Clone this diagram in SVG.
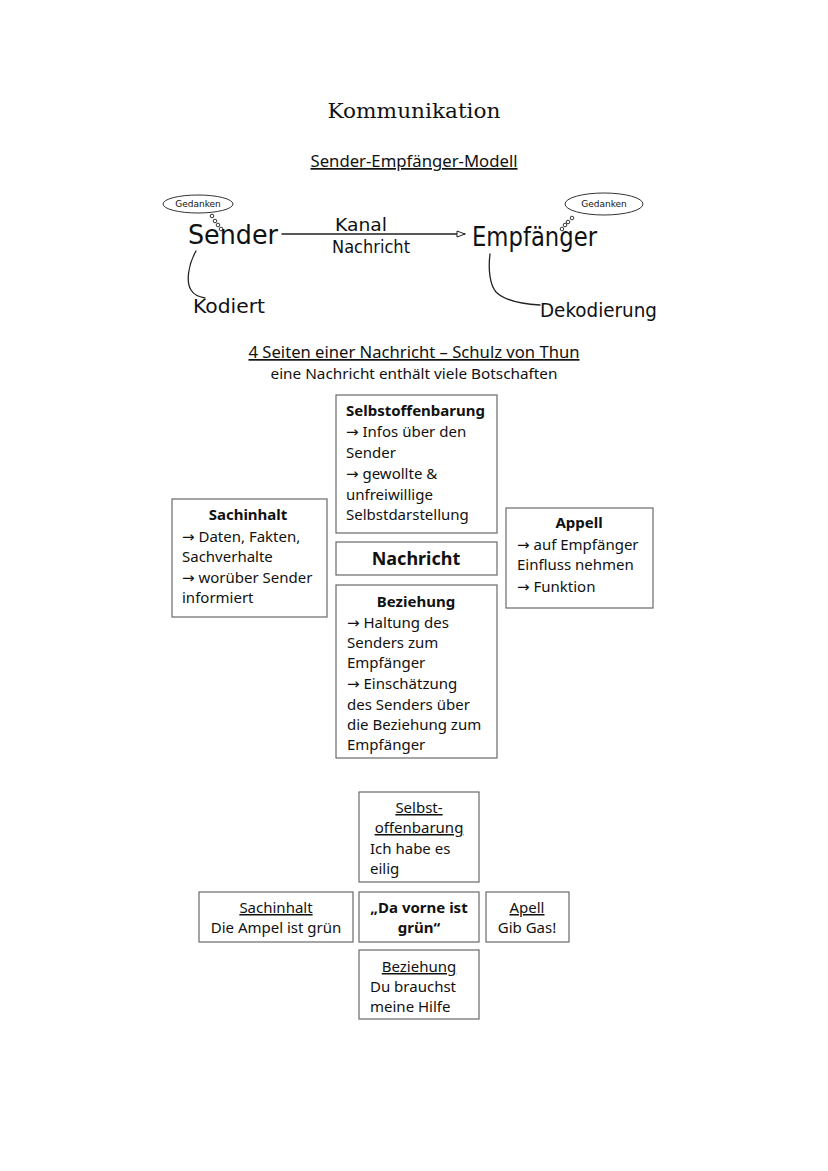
<svg xmlns="http://www.w3.org/2000/svg" width="828" height="1171" viewBox="0 0 828 1171">
<style>
.bg{fill:#ffffff}
.box{fill:#ffffff;stroke:#6a6a6a;stroke-width:1.2}
.t{font-family:"Noto Sans","Open Sans","Liberation Sans",sans-serif;font-size:15px;fill:#111}
.big{font-size:17px}
.nach{font-size:18px}
.b{font-weight:bold}
.c{text-anchor:middle}
.u{text-decoration:underline}
.ar{font-family:"DejaVu Sans",sans-serif;font-size:15px}
.hw{font-family:"DejaVu Sans","Liberation Sans",sans-serif;font-weight:normal;fill:#111}
.pen{fill:none;stroke:#222;stroke-width:1.3;stroke-linecap:round}
.bub{fill:none;stroke:#333;stroke-width:1}
</style>
<defs>
<marker id="ah" markerWidth="10" markerHeight="8" refX="9" refY="4" orient="auto" markerUnits="userSpaceOnUse">
<path d="M1,1 L9,4 L1,7 Z" fill="#fff" stroke="#222" stroke-width="1"/>
</marker>
</defs>
<rect class="bg" x="0" y="0" width="828" height="1171"/>

<g id="titles">
<text x="414" y="118" text-anchor="middle" font-family="DejaVu Serif,Liberation Serif,serif" font-size="20" textLength="173" lengthAdjust="spacingAndGlyphs" fill="#111">Kommunikation</text>
<text x="414" y="167" class="t big c u" textLength="207" lengthAdjust="spacingAndGlyphs">Sender-Empfänger-Modell</text>
<text x="414" y="358" class="t big c u" textLength="331" lengthAdjust="spacingAndGlyphs">4 Seiten einer Nachricht – Schulz von Thun</text>
<text x="414" y="379" class="t c" textLength="287" lengthAdjust="spacingAndGlyphs">eine Nachricht enthält viele Botschaften</text>
</g>

<g id="sender">
<ellipse class="bub" cx="198" cy="204" rx="35" ry="9"/>
<text x="198" y="207" class="hw c" font-size="9">Gedanken</text>
<circle class="bub" cx="212" cy="216" r="1.8"/>
<circle class="bub" cx="215" cy="221" r="1.8"/>
<circle class="bub" cx="218" cy="225" r="1.8"/>
<circle class="bub" cx="221" cy="229" r="1.8"/>
<text x="188" y="244" class="hw" font-size="26" textLength="90" lengthAdjust="spacingAndGlyphs">Sender</text>
</g>

<g id="empfaenger">
<ellipse class="bub" cx="604" cy="204" rx="39" ry="11"/>
<text x="604" y="207" class="hw c" font-size="9">Gedanken</text>
<circle class="bub" cx="572" cy="218" r="1.8"/>
<circle class="bub" cx="568" cy="222" r="1.8"/>
<circle class="bub" cx="565" cy="225" r="1.8"/>
<circle class="bub" cx="562" cy="229" r="1.8"/>
<text x="472" y="246" class="hw" font-size="26" textLength="125" lengthAdjust="spacingAndGlyphs">Empfänger</text>
</g>

<g id="kodiert">
<text x="193" y="313" class="hw" font-size="20" textLength="72" lengthAdjust="spacingAndGlyphs">Kodiert</text>
</g>
<g id="dekodierung">
<text x="540" y="317" class="hw" font-size="20" textLength="117" lengthAdjust="spacingAndGlyphs">Dekodierung</text>
</g>

<g id="connectors">
<line class="pen" x1="282" y1="234" x2="465" y2="234" marker-end="url(#ah)"/>
<text x="361" y="231" class="hw c" font-size="18" textLength="52" lengthAdjust="spacingAndGlyphs">Kanal</text>
<text x="371" y="253" class="hw c" font-size="18" textLength="78" lengthAdjust="spacingAndGlyphs">Nachricht</text>
<path class="pen" d="M196,251 C188,265 186,282 191,290 C194,295 199,297 205,298"/>
<path class="pen" d="M490,254 C488,270 490,285 496,292 C505,301 522,304 540,305"/>
</g>

<g id="selbstoffenbarung">
<rect class="box" x="336" y="395" width="161" height="138"/>
<text x="346" y="416" class="t b">Selbstoffenbarung</text>
<text x="346" y="437" class="t"><tspan class="ar">→</tspan> Infos über den</text>
<text x="346" y="458" class="t">Sender</text>
<text x="346" y="479" class="t"><tspan class="ar">→</tspan> gewollte &amp;</text>
<text x="346" y="500" class="t">unfreiwillige</text>
<text x="346" y="520" class="t">Selbstdarstellung</text>
</g>

<g id="sachinhalt">
<rect class="box" x="172" y="499" width="155" height="118"/>
<text x="248" y="520" class="t b c">Sachinhalt</text>
<text x="182" y="542" class="t"><tspan class="ar">→</tspan> Daten, Fakten,</text>
<text x="182" y="562" class="t">Sachverhalte</text>
<text x="182" y="583" class="t"><tspan class="ar">→</tspan> worüber Sender</text>
<text x="182" y="603" class="t">informiert</text>
</g>

<g id="nachricht">
<rect class="box" x="336" y="542" width="161" height="33"/>
<text x="416" y="565" class="t nach b c">Nachricht</text>
</g>

<g id="appell">
<rect class="box" x="506" y="508" width="147" height="100"/>
<text x="579" y="528" class="t b c">Appell</text>
<text x="517" y="550" class="t"><tspan class="ar">→</tspan> auf Empfänger</text>
<text x="517" y="570" class="t">Einfluss nehmen</text>
<text x="517" y="592" class="t"><tspan class="ar">→</tspan> Funktion</text>
</g>

<g id="beziehung">
<rect class="box" x="336" y="585" width="161" height="173"/>
<text x="416" y="607" class="t b c">Beziehung</text>
<text x="347" y="628" class="t"><tspan class="ar">→</tspan> Haltung des</text>
<text x="347" y="648" class="t">Senders zum</text>
<text x="347" y="668" class="t">Empfänger</text>
<text x="347" y="689" class="t"><tspan class="ar">→</tspan> Einschätzung</text>
<text x="347" y="710" class="t">des Senders über</text>
<text x="347" y="730" class="t">die Beziehung zum</text>
<text x="347" y="750" class="t">Empfänger</text>
</g>

<g id="ex-selbstoffenbarung">
<rect class="box" x="359" y="792" width="120" height="90"/>
<text x="419" y="813" class="t c u">Selbst-</text>
<text x="419" y="833" class="t c u">offenbarung</text>
<text x="370" y="854" class="t">Ich habe es</text>
<text x="370" y="874" class="t">eilig</text>
</g>

<g id="ex-sachinhalt">
<rect class="box" x="199" y="892" width="154" height="50"/>
<text x="276" y="913" class="t c u">Sachinhalt</text>
<text x="276" y="933" class="t c">Die Ampel ist grün</text>
</g>

<g id="ex-nachricht">
<rect class="box" x="359" y="892" width="120" height="50"/>
<text x="419" y="913" class="t b c">„Da vorne ist</text>
<text x="419" y="933" class="t b c">grün“</text>
</g>

<g id="ex-apell">
<rect class="box" x="486" y="892" width="83" height="50"/>
<text x="527" y="913" class="t c u">Apell</text>
<text x="527" y="933" class="t c">Gib Gas!</text>
</g>

<g id="ex-beziehung">
<rect class="box" x="359" y="950" width="120" height="69"/>
<text x="419" y="972" class="t c u">Beziehung</text>
<text x="370" y="992" class="t">Du brauchst</text>
<text x="370" y="1012" class="t">meine Hilfe</text>
</g>
</svg>
